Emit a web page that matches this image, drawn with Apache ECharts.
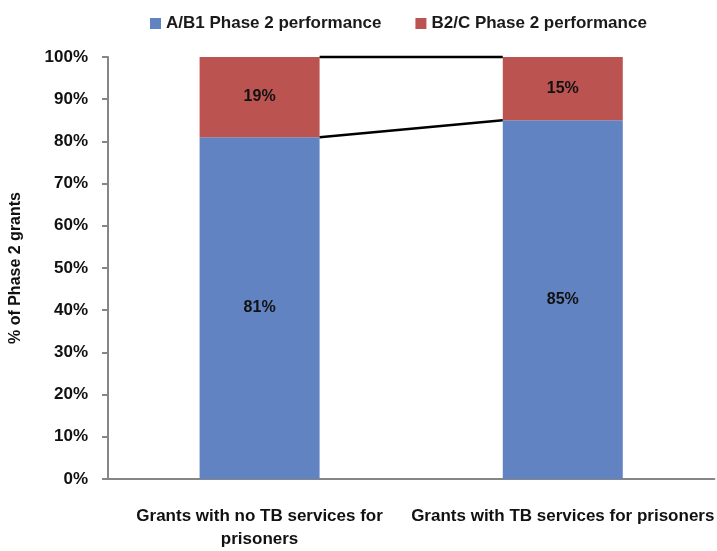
<!DOCTYPE html>
<html>
<head>
<meta charset="utf-8">
<script src="https://cdn.jsdelivr.net/npm/echarts@6/dist/echarts.min.js"></script>
<style>
  html, body { margin: 0; padding: 0; background: #fff; }
  #chart { width: 717px; height: 551px; }
</style>
</head>
<body>
<div id="chart"></div>
<script>
var categories = ['Grants with no TB services for\nprisoners', 'Grants with TB services for prisoners'];
var seriesNames = ['A/B1 Phase 2 performance', 'B2/C Phase 2 performance'];
var abValues = [81, 85];
var bcValues = [19, 15];
var yTicks = [0, 10, 20, 30, 40, 50, 60, 70, 80, 90, 100];

var font = '"Liberation Sans", Arial, sans-serif';
var barWidth = 120;

// series lines between the stacked bars (Excel style)
var lineData = [
  [0, abValues[0], 1, abValues[1]],
  [0, abValues[0] + bcValues[0], 1, abValues[1] + bcValues[1]]
];

var chart = echarts.init(document.getElementById('chart'));
var option = {
  animation: false,
  textStyle: { fontFamily: font },
  legend: {
    top: 10,
    left: 145,
    itemWidth: 11,
    itemHeight: 11,
    itemGap: 34,
    icon: 'rect',
    textStyle: { fontFamily: font, fontSize: 17, color: '#1a1a1a', fontWeight: 'bold' },
    data: seriesNames
  },
  grid: { left: 107, right: 2, top: 57, bottom: 67 },
  xAxis: {
    type: 'category',
    data: categories,
    axisLine: { lineStyle: { color: '#868686', width: 2 } },
    axisTick: { show: false },
    axisLabel: {
      color: '#111', fontSize: 17, fontWeight: 'bold', fontFamily: font,
      margin: 26, lineHeight: 23, interval: 0
    }
  },
  yAxis: {
    type: 'value',
    min: 0, max: 100, interval: 10,
    name: '% of Phase 2 grants',
    nameLocation: 'middle',
    nameGap: 84,
    nameRotate: 90,
    nameTextStyle: { fontFamily: font, fontSize: 16, fontWeight: 'bold', color: '#111' },
    splitLine: { show: false },
    axisLine: { show: true, lineStyle: { color: '#868686', width: 2 } },
    axisTick: { show: true, length: 6, lineStyle: { color: '#868686', width: 2 } },
    axisLabel: {
      color: '#111', fontSize: 17, fontWeight: 'bold', fontFamily: font, margin: 20,
      padding: [8, 0, 0, 0],
      formatter: function (v) { return yTicks.indexOf(v) >= 0 ? v + '%' : ''; }
    }
  },
  series: [
    {
      name: seriesNames[0],
      type: 'bar',
      stack: 'total',
      barWidth: barWidth,
      itemStyle: { color: '#6183C2' },
      label: {
        show: true, position: 'inside', color: '#111', fontSize: 16, fontWeight: 'bold',
        formatter: '{c}%'
      },
      data: abValues
    },
    {
      name: seriesNames[1],
      type: 'bar',
      stack: 'total',
      barWidth: barWidth,
      itemStyle: { color: '#BB5451' },
      label: {
        show: true, position: 'inside', color: '#111', fontSize: 16, fontWeight: 'bold',
        formatter: '{c}%'
      },
      data: bcValues
    },
    {
      type: 'custom',
      silent: true,
      z: 5,
      renderItem: function (params, api) {
        var p1 = api.coord([api.value(0), api.value(1)]);
        var p2 = api.coord([api.value(2), api.value(3)]);
        return {
          type: 'line',
          shape: { x1: p1[0] + barWidth / 2, y1: p1[1], x2: p2[0] - barWidth / 2, y2: p2[1] },
          style: { stroke: '#000', lineWidth: 2.5 }
        };
      },
      data: lineData
    }
  ]
};
chart.setOption(option);
</script>
</body>
</html>
